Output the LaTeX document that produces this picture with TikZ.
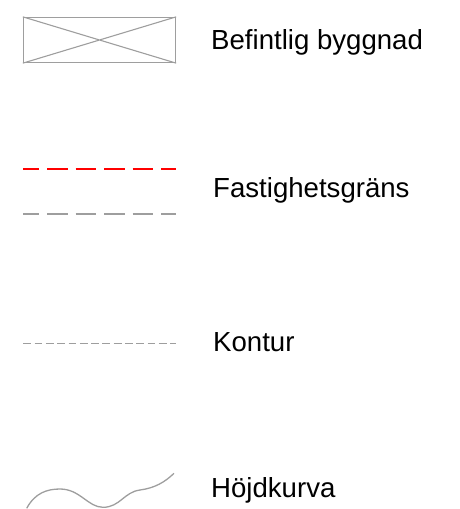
\documentclass[tikz,border=0pt]{standalone}
\usepackage{fontspec}
\setmainfont{Liberation Sans}
\definecolor{lgrey}{RGB}{158,158,158}
\definecolor{lred}{RGB}{255,0,0}
\begin{document}
\begin{tikzpicture}[x=1pt,y=-1pt,
  lbl/.style={anchor=base west,inner sep=0pt,font=\fontsize{27.6}{33}\selectfont},
  boundary/.style={line width=1.3pt,dash pattern=on 20.5pt off 8pt,dash phase=4.5pt},
  contour/.style={draw=lgrey,line width=1pt,dash pattern=on 7.8pt off 3.5pt}]
\useasboundingbox (0,0) rectangle (460,509);
% Befintlig byggnad
\node[draw=lgrey,line width=1.3pt,minimum width=152pt,minimum height=45pt,inner sep=0pt] (bldg) at (99.5,40) {};
\draw[lgrey,line width=1.1pt] (bldg.north west) -- (bldg.south east) (bldg.south west) -- (bldg.north east);
\node[lbl] (t1) at (211,49) {Befintlig byggnad};
% Fastighetsgräns
\coordinate (r1) at (23,169); \coordinate (r2) at (176,169);
\coordinate (g1) at (23,214); \coordinate (g2) at (176,214);
\draw[boundary,lred] (r1) -- (r2);
\draw[boundary,lgrey] (g1) -- (g2);
\node[lbl] (t2) at (213,197.3) {Fastighetsgräns};
% Kontur
\coordinate (k1) at (23.3,343); \coordinate (k2) at (176,343);
\draw[contour] (k1) -- (k2);
\node[lbl] (t3) at (213,351.7) {Kontur};
% Höjdkurva
\coordinate (h0) at (26.7,508.3);
\coordinate (h1) at (60,489);
\coordinate (h2) at (103,507.3);
\coordinate (h3) at (140,490);
\coordinate (h4) at (174,473.3);
\draw[lgrey,line width=1.3pt] (h0) .. controls (35,493) and (47,489) .. (h1)
  .. controls (80,489) and (88,507.3) .. (h2)
  .. controls (120,507.3) and (124,492) .. (h3)
  .. controls (155,488) and (165,482) .. (h4);
\node[lbl] (t4) at (211,497.7) {Höjdkurva};
\end{tikzpicture}
\end{document}
